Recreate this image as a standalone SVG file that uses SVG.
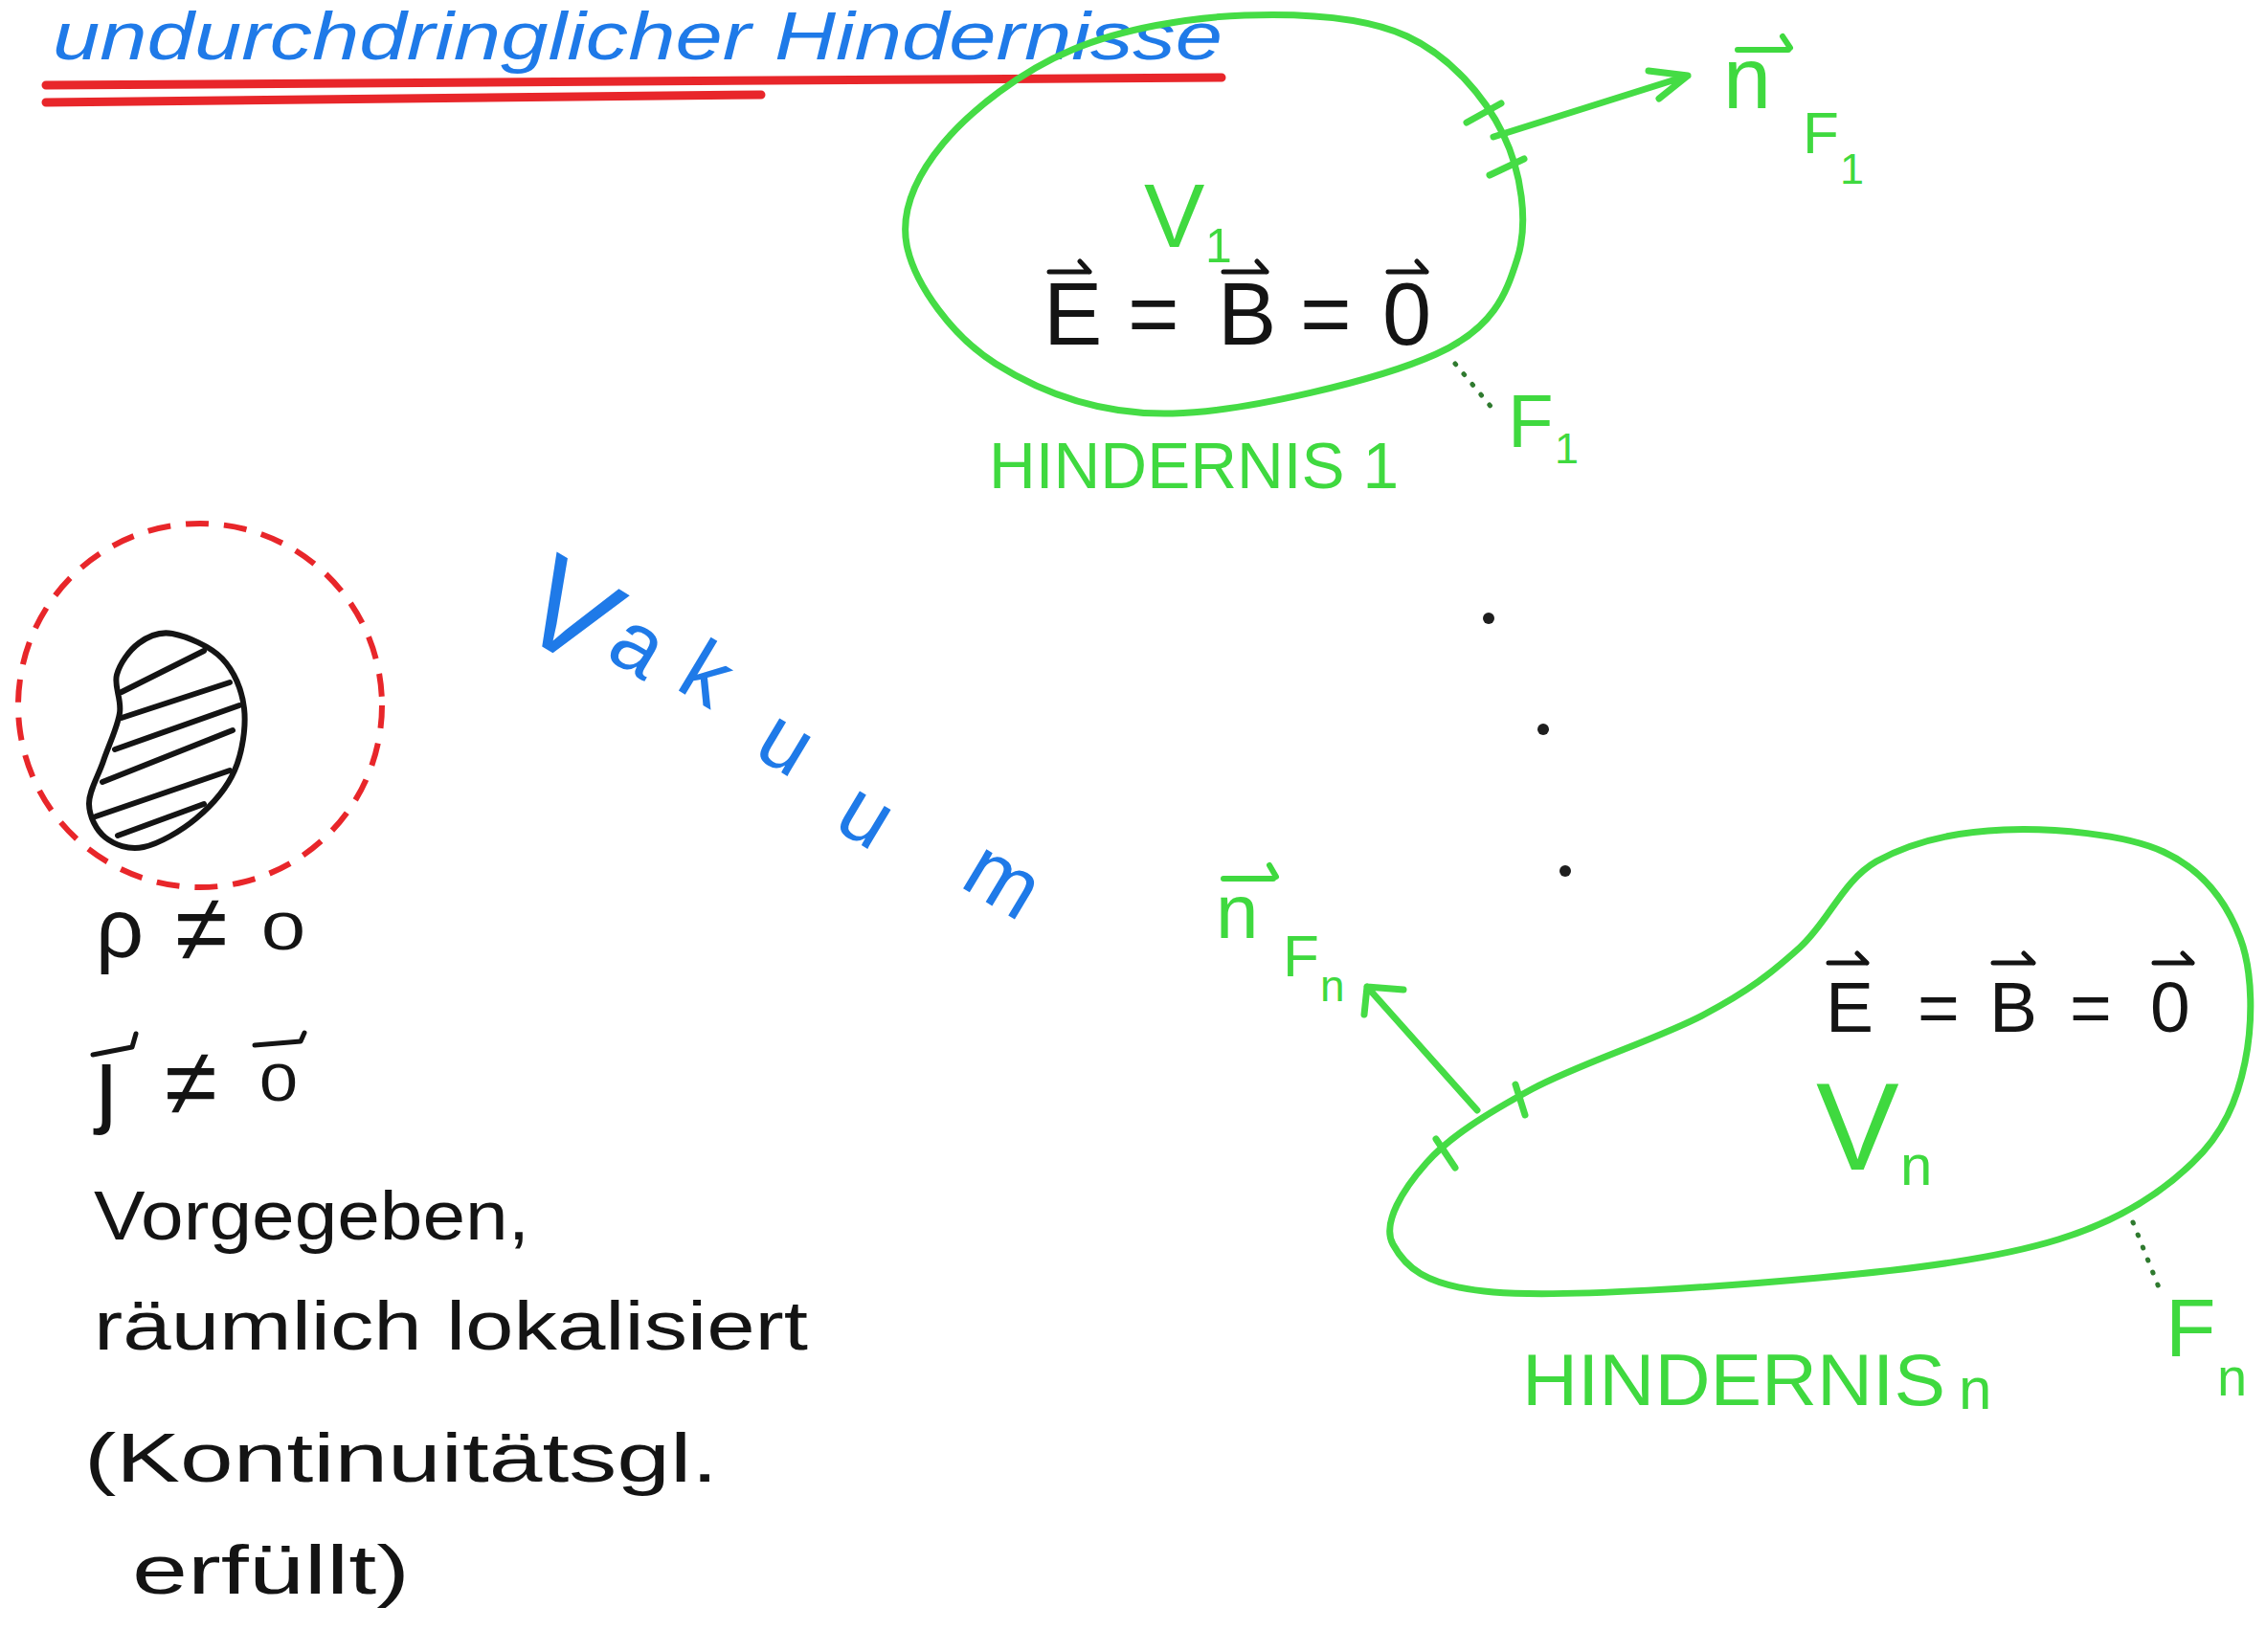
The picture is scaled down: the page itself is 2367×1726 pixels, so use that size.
<svg xmlns="http://www.w3.org/2000/svg" width="2367" height="1726" viewBox="0 0 2367 1726">
<defs>
<style>
.gl{fill:none;stroke:#45dc45;stroke-width:7;stroke-linecap:round;stroke-linejoin:round}
.gt{fill:#3fd93f;font-family:"Liberation Sans",Arial,sans-serif}
.bt{fill:#141414;font-family:"Liberation Sans",Arial,sans-serif}
.bl{fill:#1f7ae8;font-family:"Liberation Sans",Arial,sans-serif;font-style:italic}
.vk{fill:#1f7ae8;font-family:"Liberation Sans",Arial,sans-serif}
.k{fill:none;stroke:#141414;stroke-width:6;stroke-linecap:round;stroke-linejoin:round}
.vec{fill:none;stroke:#141414;stroke-width:5;stroke-linecap:round;stroke-linejoin:round}
.gvec{fill:none;stroke:#3fd93f;stroke-width:6;stroke-linecap:round;stroke-linejoin:round}
.red{fill:none;stroke:#e8262a;stroke-width:9;stroke-linecap:round}
.lead{fill:none;stroke:#2f7a2f;stroke-width:5;stroke-dasharray:1 13;stroke-linecap:round}
</style>
</defs>
<rect width="2367" height="1726" fill="#ffffff"/>

<g id="title">
<text class="bl" x="55" y="62" font-size="70" textLength="1222" lengthAdjust="spacingAndGlyphs">undurchdringlicher Hindernisse</text>
<path class="red" d="M48,89 L1276,81"/>
<path class="red" d="M48,107 L795,99"/>
</g>

<g id="hindernis1">
<path class="gl" d="M1300,16 C1358,14 1425,17 1470,38 C1515,59 1551,101 1570,140 C1589,179 1597,232 1585,270 C1573,308 1560,343 1500,370 C1440,397 1302,430 1225,432 C1148,434 1086,409 1040,380 C994,351 957,298 948,260 C939,222 956,185 985,150 C1014,115 1067,74 1120,52 C1172,30 1242,18 1300,16 Z"/>
<path class="gl" d="M1532,128 L1568,108 M1556,183 L1592,166"/>
<text class="gt" x="1195" y="258" font-size="95">V</text>
<text class="gt" x="1259" y="274" font-size="50">1</text>
<text class="bt" y="360" font-size="92"><tspan x="1090">E </tspan><tspan x="1178">= </tspan><tspan x="1272">B </tspan><tspan x="1358">= </tspan><tspan x="1444">0</tspan></text>
<path class="vec" d="M1096,284 H1138 M1128,273 L1138,284 M1278,284 H1323 M1313,273 L1323,284 M1450,284 H1490 M1480,273 L1490,284"/>
<text class="gt" x="1033" y="510" font-size="68" textLength="428" lengthAdjust="spacingAndGlyphs">HINDERNIS 1</text>
<text class="gt" x="1575" y="467" font-size="78">F</text>
<text class="gt" x="1624" y="484" font-size="45">1</text>
<text class="gt" x="1800" y="113" font-size="90">n</text>
<path class="gvec" d="M1815,52 H1868 M1862,38 L1870,50"/>
<text class="gt" x="1883" y="160" font-size="62">F</text>
<text class="gt" x="1922" y="192" font-size="45">1</text>
</g>

<g id="dots" fill="#1e1e1e">
<circle cx="1555" cy="646" r="6"/>
<circle cx="1612" cy="762" r="6"/>
<circle cx="1635" cy="910" r="6"/>
</g>

<g id="hindernisn">
<path class="gl" d="M2093,867 C2143,865 2219,871 2260,890 C2301,909 2326,943 2340,980 C2354,1017 2353,1071 2345,1110 C2337,1149 2323,1184 2290,1215 C2258,1246 2215,1275 2150,1295 C2085,1315 1998,1326 1900,1335 C1802,1344 1634,1356 1560,1350 C1486,1344 1467,1322 1455,1300 C1443,1278 1466,1242 1490,1215 C1514,1188 1552,1164 1600,1138 C1648,1112 1733,1085 1780,1060 C1827,1035 1850,1017 1880,990 C1910,963 1925,920 1960,900 C1996,880 2043,869 2093,867 Z"/>
<path class="gl" d="M1583,1133 L1593,1165 M1500,1190 L1520,1220"/>
<text class="bt" y="1078" font-size="75"><tspan x="1907">E </tspan><tspan x="2003">= </tspan><tspan x="2078">B </tspan><tspan x="2162">= </tspan><tspan x="2246">0</tspan></text>
<path class="vec" d="M1910,1006 H1950 M1940,996 L1950,1006 M2082,1006 H2124 M2114,996 L2124,1006 M2250,1006 H2290 M2280,996 L2290,1006"/>
<text class="gt" x="1897" y="1222" font-size="130">V</text>
<text class="gt" x="1985" y="1238" font-size="60">n</text>
<text class="gt" x="1590" y="1468" font-size="76" textLength="442" lengthAdjust="spacingAndGlyphs">HINDERNIS</text>
<text class="gt" x="2046" y="1472" font-size="62">n</text>
<text class="gt" x="2262" y="1417" font-size="86">F</text>
<text class="gt" x="2316" y="1458" font-size="56">n</text>
<text class="gt" x="1270" y="980" font-size="80">n</text>
<path class="gvec" d="M1278,918 H1330 M1326,904 L1333,916"/>
<text class="gt" x="1340" y="1020" font-size="62">F</text>
<text class="gt" x="1379" y="1046" font-size="46">n</text>
</g>

<g id="vakuum" transform="translate(592,620) rotate(31)">
<text class="vk" text-anchor="middle" font-size="90"><tspan x="13" y="61" font-size="135">V</tspan><tspan x="92" y="37">a</tspan><tspan x="169" y="27">k</tspan><tspan x="277" y="45">u</tspan><tspan x="388" y="67">u</tspan><tspan x="545" y="51">m</tspan></text>
</g>

<g id="quelle">
<circle cx="209" cy="737" r="190" fill="none" stroke="#e8262a" stroke-width="6" stroke-dasharray="24 16"/>
<path class="k" d="M180,662 C194.5,664.7 219.5,675 232,688 C244.5,701 252.8,720.5 255,740 C257.2,759.5 253.3,785.8 245,805 C236.7,824.2 220.8,841.7 205,855 C189.2,868.3 165.8,881.7 150,885 C134.2,888.3 119.5,882.5 110,875 C100.5,867.5 93.3,853.3 93,840 C92.7,826.7 102.7,810.8 108,795 C113.3,779.2 122.7,760 125,745 C127.3,730 118.7,717.2 122,705 C125.3,692.8 135.3,679.2 145,672 C154.7,664.8 165.5,659.3 180,662 Z"/>
<path class="k" stroke-width="5" d="M127,723 L213,680 M127,750 L240,713 M120,783 L250,737 M107,817 L243,763 M100,853 L240,805 M123,873 L213,840"/>
<text class="bt" x="100" y="1000" font-size="88">ρ</text>
<text class="bt" x="183" y="1004" font-size="100">≠</text>
<text class="bt" x="273" y="992" font-size="56" textLength="46" lengthAdjust="spacingAndGlyphs">0</text>
<text class="bt" x="100" y="1165" font-size="100">ȷ</text>
<text class="bt" x="172" y="1165" font-size="100">≠</text>
<text class="bt" x="271" y="1150" font-size="56" textLength="40" lengthAdjust="spacingAndGlyphs">0</text>
<path class="vec" d="M97,1102 L138,1094 L142,1080 M266,1092 L314,1088 L318,1079"/>
<text class="bt" x="98" y="1295" font-size="72" textLength="455" lengthAdjust="spacingAndGlyphs">Vorgegeben,</text>
<text class="bt" x="98" y="1410" font-size="72" textLength="746" lengthAdjust="spacingAndGlyphs">räumlich lokalisiert</text>
<text class="bt" x="88" y="1548" font-size="72" textLength="662" lengthAdjust="spacingAndGlyphs">(Kontinuitätsgl.</text>
<text class="bt" x="138" y="1665" font-size="72" textLength="290" lengthAdjust="spacingAndGlyphs">erfüllt)</text>
</g>

<g id="connectors">
<path class="gl" d="M1560,143 L1763,79 M1722,74 L1763,79 L1733,103"/>
<path class="gl" d="M1543,1160 L1428,1031 M1466,1034 L1428,1031 L1425,1060"/>
<path class="lead" d="M1520,380 L1560,428"/>
<path class="lead" d="M2228,1277 L2255,1345"/>
</g>
</svg>
